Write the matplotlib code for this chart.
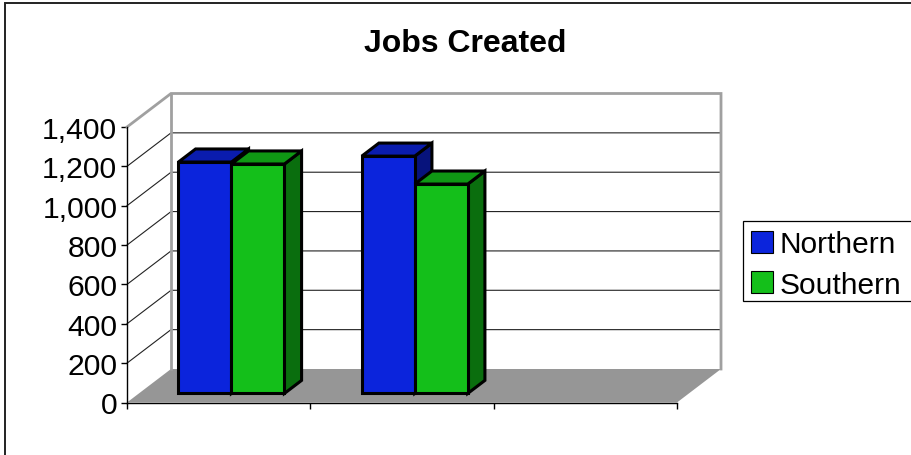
import matplotlib
matplotlib.use("Agg")
import matplotlib.pyplot as plt
from matplotlib.patches import Polygon, Rectangle

plt.rcParams["font.family"] = ["Liberation Sans", "DejaVu Sans"]

# data
categories = ["", "", ""]
series_names = ["Northern", "Southern"]
northern = [1176, 1206]
southern = [1166, 1064]
y_ticks = [0, 200, 400, 600, 800, 1000, 1200, 1400]

BLUE = "#0b24dc"
BLUE_TOP = "#0a1cae"
BLUE_SIDE = "#07137c"
GREEN = "#14bf1a"
GREEN_TOP = "#0f9814"
GREEN_SIDE = "#0a6e0e"
FLOOR = "#969696"
WALL = "#a0a0a0"

W, H = 912, 456

fig = plt.figure(figsize=(W / 100, H / 100), dpi=100)
# axes is the front plane of the 3d box
ax = fig.add_axes([127 / W, 1 - 403.5 / H, 550 / W, 275.5 / H])
ax.set_xlim(0, len(categories))
ax.set_ylim(0, y_ticks[-1])
ax.patch.set_visible(False)

# depth of the box in data units
DX = 44 / (550 / 3)
DY = 33.5 / (275.5 / 1400)

# floor
ax.add_patch(Polygon([(0, 0), (3, 0), (3 + DX, DY), (DX, DY)], fc=FLOOR, ec="none", clip_on=False, zorder=1))

# gridlines on the side and back wall
for v in y_ticks[1:-1]:
    ax.plot([0, DX, 3 + DX], [v, v + DY, v + DY], color="#222222", lw=0.8, clip_on=False, zorder=1.5)

# wall outline
ax.plot([0, DX, 3 + DX, 3 + DX], [1400, 1400 + DY, 1400 + DY, DY], color=WALL, lw=2, clip_on=False, zorder=2, solid_joinstyle="miter")
ax.plot([DX, DX], [1400 + DY, DY], color=WALL, lw=2, clip_on=False, zorder=2)


def draw_bar(x0, width, value, front, top, side):
    # position inside the depth of the box
    sx = 0.29 * DX
    sy = 0.27 * DY
    dx = 0.39 * DX
    dy = 0.39 * DY
    x1 = x0 + width
    kw = dict(ec="black", lw=2.2, clip_on=False, joinstyle="miter", zorder=4 + x0)
    ax.add_patch(Polygon([(x1 + sx, sy), (x1 + sx + dx, sy + dy), (x1 + sx + dx, value + sy + dy), (x1 + sx, value + sy)], fc=side, **kw))
    ax.add_patch(Polygon([(x0 + sx, value + sy), (x0 + sx + dx, value + sy + dy), (x1 + sx + dx, value + sy + dy), (x1 + sx, value + sy)], fc=top, **kw))
    ax.add_patch(Polygon([(x0 + sx, sy), (x1 + sx, sy), (x1 + sx, value + sy), (x0 + sx, value + sy)], fc=front, **kw))


bar_w = 53 / (550 / 3)
for i in range(len(northern)):
    draw_bar(i + 0.5 - bar_w, bar_w, northern[i], BLUE, BLUE_TOP, BLUE_SIDE)
    draw_bar(i + 0.5, bar_w, southern[i], GREEN, GREEN_TOP, GREEN_SIDE)

# axes lines and ticks
for name in ["top", "right"]:
    ax.spines[name].set_visible(False)
ax.spines["left"].set_linewidth(1)
ax.spines["bottom"].set_linewidth(1)
ax.spines["left"].set_zorder(3)
ax.spines["bottom"].set_zorder(3)
ax.set_yticks(y_ticks)
ax.set_yticklabels([f"{v:,}" for v in y_ticks], fontsize=21.7)
ax.set_xticks(range(len(categories) + 1))
ax.set_xticklabels([])
ax.tick_params(axis="both", direction="out", length=4, width=1, pad=3)

fig.text(465 / W, 1 - 44 / H, "Jobs Created", fontsize=23, fontweight="bold", ha="center", va="center")

# legend box, placed by hand
fig.add_artist(Rectangle((742.5 / W, 1 - 302 / H), 172 / W, 80 / H, transform=fig.transFigure, fc="white", ec="black", lw=0.9))
for name, color, yc in zip(series_names, [BLUE, GREEN], [242.5, 282.5]):
    fig.add_artist(Rectangle((751.5 / W, 1 - (yc + 11) / H), 21.5 / W, 21.5 / H, transform=fig.transFigure, fc=color, ec="black", lw=0.8))
    fig.text(780 / W, 1 - (yc + 3) / H, name, fontsize=21.5, va="center", ha="left")

# chart area frame
fig.add_artist(Rectangle((5.5 / W, -0.1), 1.2, 1 - 3.5 / H + 0.1, transform=fig.transFigure, fc="none", ec="#222222", lw=1.4))

fig.savefig("out.png", dpi=100)
